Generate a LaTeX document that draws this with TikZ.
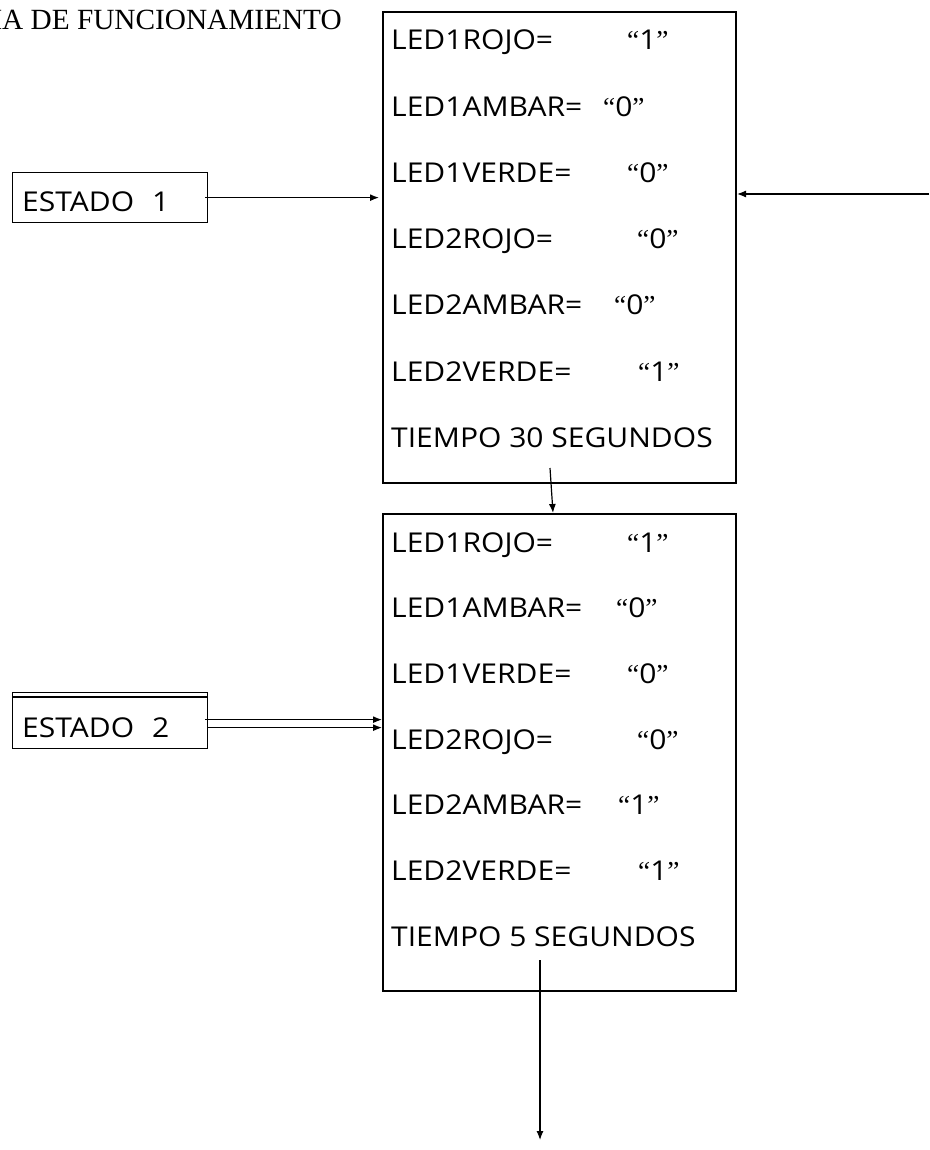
\documentclass[tikz,border=0pt]{standalone}
\usepackage{fontspec}
\setmainfont{Open Sans}[FakeStretch=1.1]
\newfontfamily\titlefont{Liberation Serif}
\usetikzlibrary{arrows.meta}
\begin{document}
\begin{tikzpicture}[x=1pt,y=-1pt,
  panel/.style={draw, line width=2pt, minimum width=353pt, inner sep=0pt, anchor=north west},
  statebox/.style={draw, line width=1.3pt, minimum width=195pt, inner sep=0pt, anchor=north west},
  txt/.style={anchor=base west, inner sep=0pt, font=\fontsize{27.3}{30}\selectfont},
  arr/.style={line width=1.2pt, -{Latex[length=9pt,width=7pt]}},
  qt/.style={txt}]
\useasboundingbox (0,0) rectangle (929,1150);
\clip (0,0) rectangle (929,1150);

% title
\node[anchor=base east, inner sep=0pt, font=\titlefont\fontsize{29.3}{32}\selectfont] (title) at (342,30) {MA DE FUNCIONAMIENTO};

% state panels
\node[panel, minimum height=471pt] (p1) at (382,11) {};
\node[panel, minimum height=477pt] (p2) at (382,513) {};

% panel 1 contents
\foreach \lab/\val/\vx [count=\i from 0] in
  {LED1ROJO=/1/627, LED1AMBAR=/0/603, LED1VERDE=/0/627,
   LED2ROJO=/0/637, LED2AMBAR=/0/614, LED2VERDE=/1/638}{
  \node[txt] (a\i) at (391,50+66.2*\i) {\lab};
  \node[qt] (av\i) at (\vx,50+66.2*\i) {{\titlefont“}\val{\titlefont”}};
}
\node[txt] (at) at (391,447) {TIEMPO 30 SEGUNDOS};

% panel 2 contents
\foreach \lab/\val/\vx [count=\i from 0] in
  {LED1ROJO=/1/627, LED1AMBAR=/0/616, LED1VERDE=/0/627,
   LED2ROJO=/0/637, LED2AMBAR=/1/618, LED2VERDE=/1/638}{
  \node[txt] (b\i) at (391,552+65.7*\i) {\lab};
  \node[qt] (bv\i) at (\vx,552+65.7*\i) {{\titlefont“}\val{\titlefont”}};
}
\node[txt] (bt) at (391,946) {TIEMPO 5 SEGUNDOS};

% state labels
\node[statebox, minimum height=50pt] (e1) at (12,172) {};
\node[txt] (e1t) at (22,212) {ESTADO\hspace{18pt}1};
\node[statebox, minimum height=56pt] (e2) at (12,692) {};
\draw[line width=1.3pt] (e2.north west) ++(0,5) coordinate (e2a) -- (e2a -| e2.east);
\node[txt] (e2t) at (22,737) {ESTADO\hspace{18pt}2};

% connectors
\draw[arr] ([xshift=-3pt]e1.east) -- ([xshift=-3pt]e1.east -| p1.west);
\coordinate (rin) at (929,194);
\draw[arr] (rin) -- (rin -| p1.east);
\draw[arr] ([yshift=-7pt]e2.east) -- ([yshift=-7pt]e2.east -| p2.west);
\draw[arr] ([xshift=-3pt,yshift=1pt]e2.east) -- ([yshift=1pt]e2.east -| p2.west);
\coordinate (d1) at (550,468);
\draw[arr] (d1) -- ([xshift=-6.5pt]p2.north);
\coordinate (d2) at (540,960);
\coordinate (d3) at (540,1140);
\draw[arr] (d2) -- (d3);
\end{tikzpicture}
\end{document}
